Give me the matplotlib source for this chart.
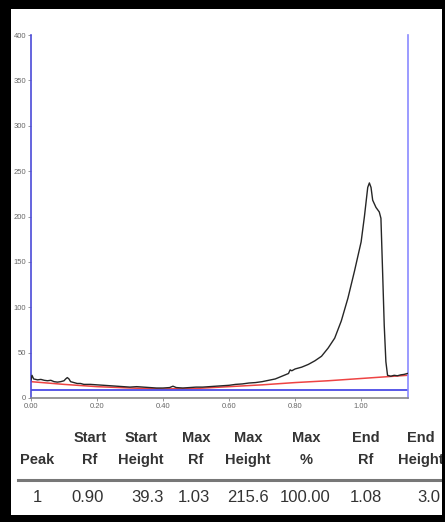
import matplotlib
matplotlib.use("Agg")
import matplotlib.pyplot as plt
from matplotlib.patches import Rectangle
from matplotlib.lines import Line2D

# ---- data ----
rf = [0.000, 0.003, 0.008, 0.02, 0.03, 0.04, 0.05, 0.06, 0.07, 0.08, 0.09, 0.10,
      0.105, 0.11, 0.115, 0.12, 0.13, 0.14, 0.15, 0.16, 0.18, 0.20, 0.22, 0.24,
      0.26, 0.28, 0.30, 0.32, 0.34, 0.36, 0.38, 0.40, 0.42, 0.43, 0.44, 0.46,
      0.48, 0.50, 0.52, 0.54, 0.56, 0.58, 0.60, 0.62, 0.64, 0.66, 0.68, 0.70,
      0.72, 0.74, 0.76, 0.78, 0.785, 0.79, 0.80, 0.82, 0.84, 0.86, 0.88, 0.90,
      0.92, 0.94, 0.96, 0.98, 1.00, 1.01, 1.02, 1.025, 1.03, 1.035, 1.045, 1.055,
      1.06, 1.065, 1.07, 1.075, 1.08, 1.09, 1.10, 1.11, 1.12, 1.13, 1.14]
signal = [20, 25, 21, 20, 20.5, 19.5, 19, 19.5, 18, 17.5, 18, 19,
          21, 22.5, 21, 18, 17, 16, 16, 15, 15, 14.5, 14, 13.5,
          13, 12.5, 12, 12.5, 12, 11.5, 11, 11, 11.5, 13, 11.5, 11,
          11.5, 12, 12, 12.5, 13, 13.5, 14, 15, 15.5, 16.5, 17, 18,
          19.5, 21, 24, 27, 31, 30, 32, 34, 37, 41, 46, 55,
          66, 85, 110, 140, 172, 200, 232, 237, 232, 218, 210, 205,
          198, 140, 80, 40, 25, 24, 25, 24.5, 25.5, 26, 27]

base_rf = [0.0, 0.1, 0.2, 0.3, 0.4, 0.5, 0.6, 0.7, 0.8, 0.9, 1.0, 1.14]
baseline = [18, 15, 12.5, 11, 10, 10.5, 12.5, 14.5, 17, 19, 21.5, 25]

threshold = 9
xticks = [0.00, 0.20, 0.40, 0.60, 0.80, 1.00]
yticks = [0, 50, 100, 150, 200, 250, 300, 350, 400]

headers1 = ["", "Start", "Start", "Max", "Max", "Max", "End", "End"]
headers2 = ["Peak", "Rf", "Height", "Rf", "Height", "%", "Rf", "Height"]
row = ["1", "0.90", "39.3", "1.03", "215.6", "100.00", "1.08", "3.0"]

FONT = ["Liberation Sans", "DejaVu Sans"]

# ---- figure ----
W, H = 445, 522
fig = plt.figure(figsize=(W / 100, H / 100), dpi=100)
fig.patch.set_facecolor("white")

def fx(px):
    return px / W

def fy(py):
    return 1 - py / H

ax = fig.add_axes([fx(31), fy(398), fx(408) - fx(31), fy(35) - fy(398)])
ax.set_xlim(0, 1.142)
ax.set_ylim(0, 400)

ax.plot(base_rf, baseline, color="#ee4444", lw=1.1, zorder=2)
ax.axhline(threshold, color="#4b4be6", lw=1.3, zorder=2)
ax.plot(rf, signal, color="#262626", lw=1.0, zorder=3)

ax.spines["top"].set_visible(False)
ax.spines["left"].set_color("#4a4ad8")
ax.spines["left"].set_linewidth(1.2)
ax.spines["right"].set_color("#8a8aff")
ax.spines["right"].set_linewidth(1.2)
ax.spines["bottom"].set_color("#888888")
ax.spines["bottom"].set_linewidth(1.2)

ax.set_xticks(xticks)
ax.set_xticklabels([f"{v:.2f}" for v in xticks])
ax.set_yticks(yticks)
ax.set_yticklabels([str(v) for v in yticks])
ax.tick_params(axis="both", labelsize=5.5, labelcolor="#666666", color="#888888",
               length=2, width=0.6, pad=1.5)
for lab in ax.get_xticklabels() + ax.get_yticklabels():
    lab.set_family(FONT)

# ---- table ----
col_centers = [37, 90, 141, 196, 248, 306, 366, 421]
data_centers = [37, 88, 148, 194, 248, 305, 366, 429]
for c, h1, h2, d, dc in zip(col_centers, headers1, headers2, row, data_centers):
    fig.text(fx(c), fy(438), h1, ha="center", va="center", fontsize=10.5,
             color="#333333", fontweight="bold", family=FONT)
    fig.text(fx(c), fy(460), h2, ha="center", va="center", fontsize=10.5,
             color="#333333", fontweight="bold", family=FONT)
    fig.text(fx(dc), fy(497), d, ha="center", va="center", fontsize=12,
             color="#333333", family=FONT)

fig.add_artist(Line2D([fx(18), fx(442)], [fy(480), fy(480)], color="#777777",
                      lw=2.2, transform=fig.transFigure))

# ---- black frame ----
for (x0, y0, w, h) in [(0, 0, 11, H), (0, 0, W, 9), (442, 0, 3, H), (0, 515, W, 7)]:
    fig.add_artist(Rectangle((fx(x0), fy(y0 + h)), w / W, h / H,
                             transform=fig.transFigure, color="black", lw=0,
                             zorder=10))

fig.savefig("out.png", dpi=100)
